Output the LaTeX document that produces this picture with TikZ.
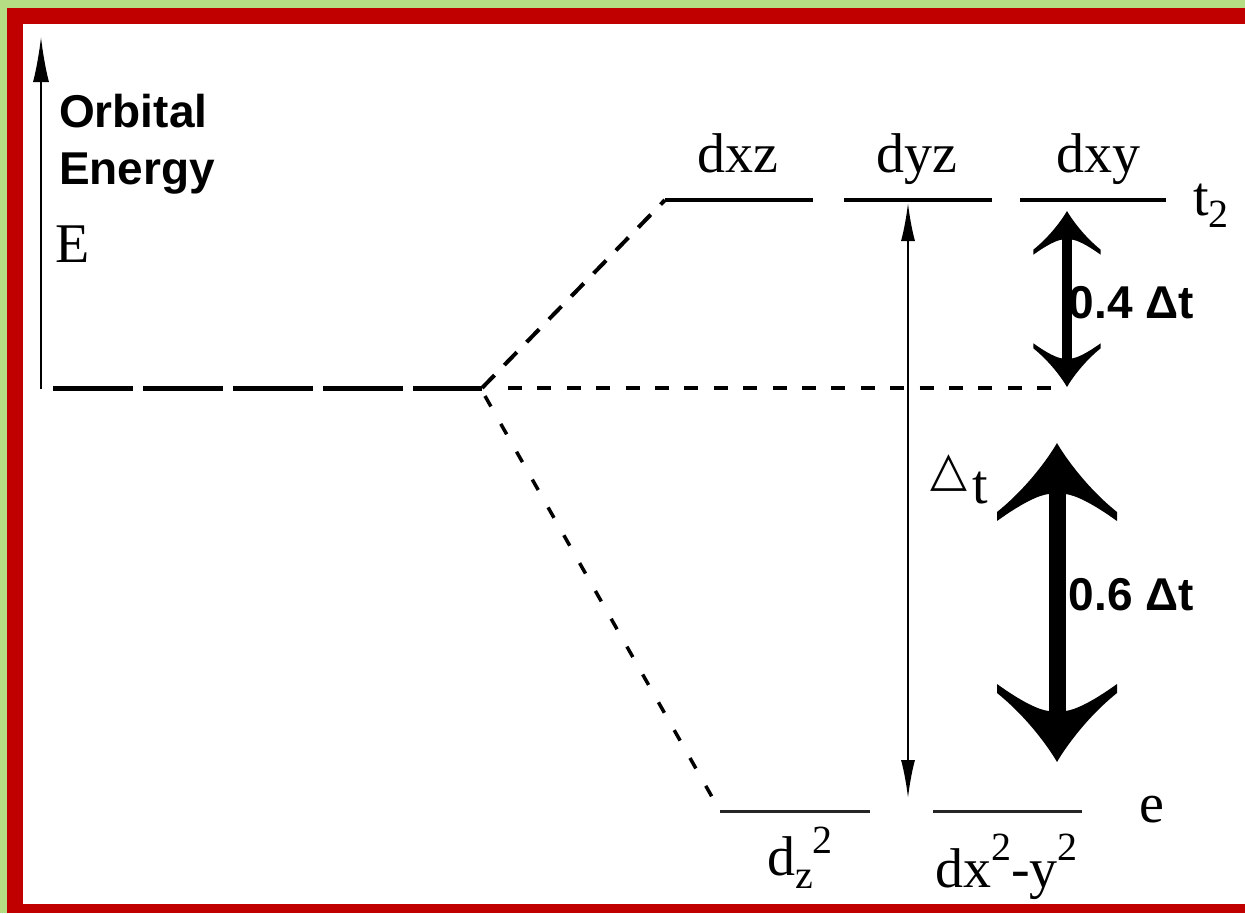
\documentclass[tikz,border=0pt]{standalone}
\usepackage{fontspec}
\setmainfont{Liberation Serif}
\newfontfamily\lsans{Liberation Sans}
\newfontfamily\dejavu{DejaVu Sans}
\usetikzlibrary{arrows.meta}
\definecolor{lgreen}{RGB}{181,221,131}
\definecolor{dred}{RGB}{192,0,0}
\newcommand\smallsz{\fontsize{40}{40}\selectfont}
\tikzset{
  serif/.style={font=\fontsize{56}{60}\selectfont, inner sep=0pt},
  boldlab/.style={font=\lsans\bfseries\fontsize{46}{57}\selectfont, inner sep=0pt},
  tlevel/.style={line width=4pt},
  elevel/.style={line width=3pt, black!85},
  thinarrow/.style={line width=2pt},
  pics/bigtip/.style={code={
    \fill (0,0) .. controls (-8,14) and (-30,45) .. (-60,69) -- (-60,78)
      .. controls (-35,60) and (-18,52) .. (-8.3,51) -- (8.3,51)
      .. controls (18,52) and (35,60) .. (60,78) -- (60,69)
      .. controls (30,45) and (8,14) .. (0,0) -- cycle;
  }}
}
\begin{document}
\begin{tikzpicture}[x=1pt,y=-1pt]
\useasboundingbox (0,0) rectangle (1245,913);
% frame: white page, green strips, red strips
\fill[white] (0,0) rectangle (1245,913);
\fill[lgreen] (0,0) rectangle (1245,8);
\fill[lgreen] (0,0) rectangle (7,913);
\fill[dred] (7,8) rectangle (1245,24);
\fill[dred] (7,8) rectangle (23,913);
\fill[dred] (7,904) rectangle (1245,913);

% coordinates
\coordinate (axisbot) at (41,389);
\coordinate (axistop) at (41,37);
\coordinate (split) at (482,388);
\coordinate (splitlow) at (485,396);
\coordinate (leftstart) at (53,388);
\coordinate (midstart) at (508,388);
\coordinate (midend) at (1052,388);
\coordinate (xzL) at (665,200); \coordinate (xzR) at (813,200);
\coordinate (yzL) at (844,200); \coordinate (yzR) at (992,200);
\coordinate (xyL) at (1020,200); \coordinate (xyR) at (1166,200);
\coordinate (z2L) at (720,811); \coordinate (z2R) at (870,811);
\coordinate (x2L) at (933,811); \coordinate (x2R) at (1082,811);
\coordinate (dtTop) at (908,203);
\coordinate (dtBot) at (908,798);
\coordinate (fourTop) at (1067,211);
\coordinate (fourBot) at (1067,387);
\coordinate (sixTop) at (1057,443);
\coordinate (sixBot) at (1057,762);

% axis
\draw[thinarrow,-{Latex[length=45pt,width=16pt]}] (axisbot) -- (axistop);
\node[boldlab, anchor=north west, align=left] (orb) at (59,94) {Orbital\\Energy};
\node[serif, anchor=base west] (E) at (55,262) {E};

% levels
\draw[line width=5pt, dash pattern=on 80pt off 10pt] (leftstart) -- (split);
\draw[line width=4pt, dash pattern=on 14pt off 15.4pt] (midstart) -- (midend);
\draw[line width=4pt, dash pattern=on 18pt off 14pt] (split) -- (xzL);
\draw[line width=3.5pt, dash pattern=on 12pt off 20pt] (splitlow) -- (z2L);
\draw[tlevel] (xzL) -- (xzR);
\draw[tlevel] (yzL) -- (yzR);
\draw[tlevel] (xyL) -- (xyR);
\draw[elevel] (z2L) -- (z2R);
\draw[elevel] (x2L) -- (x2R);

% labels
\node[serif, anchor=base] (dxz) at (738,172) {dxz};
\node[serif, anchor=base] (dyz) at (917,172) {dyz};
\node[serif, anchor=base] (dxy) at (1098,172) {dxy};
\node[serif, anchor=base west] (t2) at (1193,215) {t\raisebox{-12pt}{\smallsz 2}};
\node[serif, anchor=base west] (e) at (1139,822) {e};
\node[serif, anchor=base west] (dz2) at (767,875) {d\raisebox{-13pt}{\smallsz z}\raisebox{22pt}{\smallsz 2}};
\node[serif, anchor=base west] (dx2y2) at (935,887) {dx\raisebox{27pt}{\smallsz 2}-y\raisebox{27pt}{\smallsz 2}};
\node[serif, anchor=base west] (dt) at (930,503) {\raisebox{18pt}{\dejavu\fontsize{48}{48}\selectfont △}\hspace{5pt}t};

% Delta_t arrow
\draw[thinarrow,{Latex[length=38pt,width=14pt]}-{Latex[length=38pt,width=14pt]}] (dtTop) -- (dtBot);

% bold labels
\node[boldlab, anchor=base east] (l04) at (1194,318) {0.4 Δt};
\node[boldlab, anchor=base east] (l06) at (1194,610) {0.6 Δt};

% big arrows
\draw[line width=10pt, shorten <=20pt, shorten >=20pt] (fourTop) -- (fourBot);
\pic[scale=0.56] at (fourTop) {bigtip};
\pic[scale=0.56, rotate=180] at (fourBot) {bigtip};
\draw[line width=17pt, shorten <=40pt, shorten >=40pt] (sixTop) -- (sixBot);
\pic at (sixTop) {bigtip};
\pic[rotate=180] at (sixBot) {bigtip};
\end{tikzpicture}
\end{document}
